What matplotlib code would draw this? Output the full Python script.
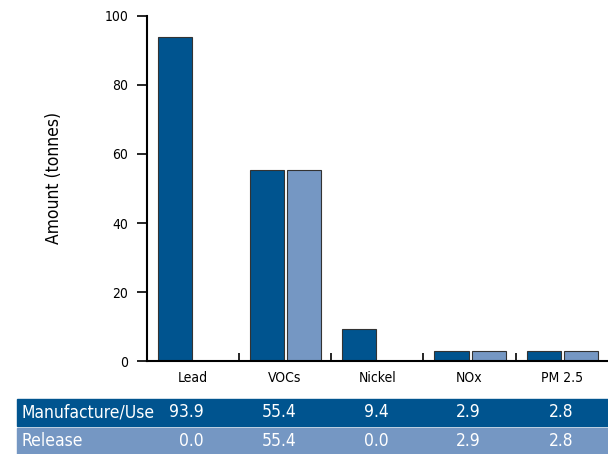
import numpy as np
import matplotlib.pyplot as plt
from matplotlib.patches import Rectangle
import matplotlib.transforms as mtransforms

plt.rcParams['font.family'] = ['DejaVu Sans']
plt.rcParams['font.stretch'] = 'condensed'

categories = ['Lead', 'VOCs', 'Nickel', 'NOx', 'PM 2.5']
manufacture_use = [93.9, 55.4, 9.4, 2.9, 2.8]
release = [0.0, 55.4, 0.0, 2.9, 2.8]
row_names = ['Manufacture/Use', 'Release']

dark = '#00548f'
light = '#7597c3'

fig = plt.figure(figsize=(6.08, 4.54), dpi=100)
ax = fig.add_axes([0.241, 0.2048, 0.759, 0.760])

x = np.arange(len(categories))
w = 0.37
ax.bar(x - 0.195, manufacture_use, w, color=dark, edgecolor='#333333', linewidth=0.8)
ax.bar(x + 0.21, release, w, color=light, edgecolor='#333333', linewidth=0.8)

ax.set_xlim(-0.5, len(categories) - 0.5)
ax.set_ylim(0, 100)
ax.set_yticks([0, 20, 40, 60, 80, 100])
ax.tick_params(axis='y', direction='out', length=7, width=1.2, labelsize=10, pad=6)

# separators between groups, labels at group centres
ax.set_xticks(x[:-1] + 0.5)
ax.set_xticklabels([])
ax.tick_params(axis='x', which='major', direction='in', length=6, width=1.2)
ax.set_xticks(x, minor=True)
ax.set_xticklabels(categories, minor=True)
ax.tick_params(axis='x', which='minor', length=0, labelsize=10, pad=7)

for s in ['top', 'right']:
    ax.spines[s].set_visible(False)
for s in ['left', 'bottom']:
    ax.spines[s].set_linewidth(1.5)

ax.set_ylabel('Amount (tonnes)', fontsize=12.5)
ax.yaxis.set_label_coords(-0.18, 0.53)

# data table under the chart
trans = mtransforms.blended_transform_factory(ax.transData, fig.transFigure)
rows = [(manufacture_use, dark, 1 - 425.7 / 454, 26.5 / 454),
        (release, light, 1 - 454 / 454, 26 / 454)]
for name, (vals, col, y0, h) in zip(row_names, rows):
    fig.patches.append(Rectangle((17 / 608, y0), 1 - 17 / 608, h,
                                 transform=fig.transFigure, color=col, zorder=0))
    yc = y0 + h / 2
    fig.text(21 / 608, yc, name, color='white', fontsize=12.5, va='center', ha='left')
    for i, v in enumerate(vals):
        fig.text(i + 0.12, yc, f'{v:.1f}', color='white', fontsize=12.5,
                 va='center', ha='right', transform=trans)

fig.savefig('out.png', dpi=100)
